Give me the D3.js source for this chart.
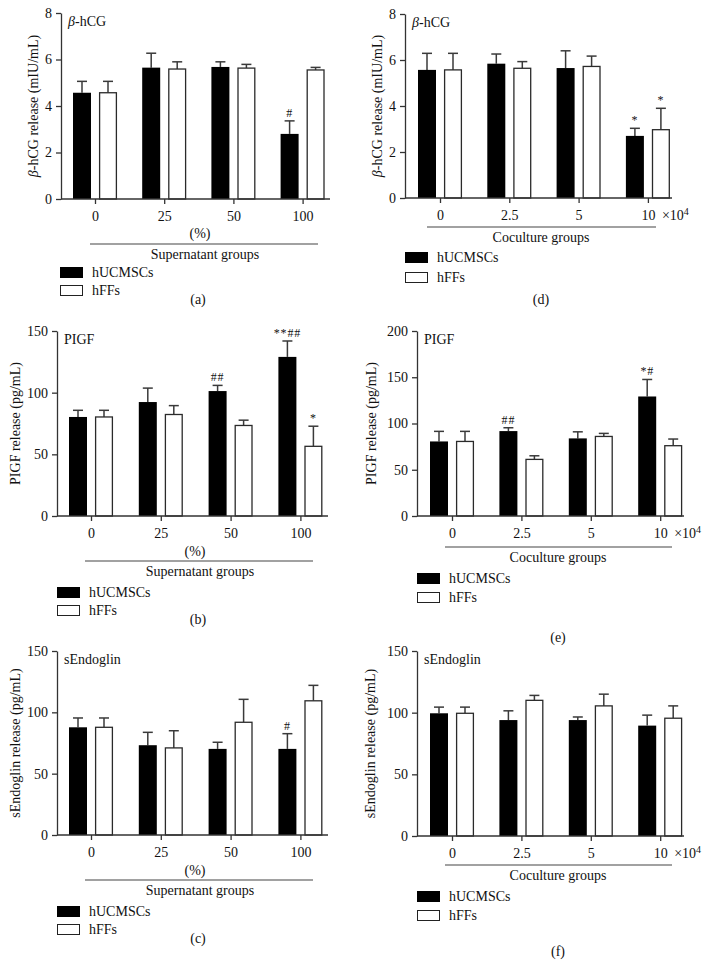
<!DOCTYPE html>
<html><head><meta charset="utf-8">
<script src="https://cdn.jsdelivr.net/npm/d3@7"></script>
<style>
body{margin:0;background:#fff}
svg{display:block;background:#fff}
text{font-family:"Liberation Serif","Times New Roman",serif;fill:#111}
</style>
</head><body>
<svg id="chart" width="713" height="960"></svg>
<script>
// ---------- data ----------
const catSup = ["0", "25", "50", "100"];
const catCo = ["0", "2.5", "5", "10"];
const seriesNames = ["hUCMSCs", "hFFs"];

// beta-hCG, supernatant groups (a)
const hcgSupH = [4.57, 5.65, 5.68, 2.80];
const hcgSupHErr = [0.49, 0.62, 0.22, 0.56];
const hcgSupF = [4.57, 5.59, 5.63, 5.55];
const hcgSupFErr = [0.49, 0.31, 0.16, 0.11];
const hcgSupHAnn = ["", "", "", "#"];
const hcgSupFAnn = ["", "", "", ""];

// beta-hCG, coculture groups (d)
const hcgCoH = [5.57, 5.84, 5.65, 2.70];
const hcgCoHErr = [0.72, 0.42, 0.75, 0.33];
const hcgCoF = [5.57, 5.64, 5.72, 2.97];
const hcgCoFErr = [0.72, 0.29, 0.45, 0.93];
const hcgCoHAnn = ["", "", "", "*"];
const hcgCoFAnn = ["", "", "", "*"];

// PIGF, supernatant groups (b)
const pigfSupH = [80.3, 92.4, 101.3, 129.0];
const pigfSupHErr = [5.4, 11.3, 4.6, 12.9];
const pigfSupF = [80.3, 82.3, 73.4, 56.5];
const pigfSupFErr = [5.4, 7.2, 4.3, 16.3];
const pigfSupHAnn = ["", "", "##", "**##"];
const pigfSupFAnn = ["", "", "", "*"];

// PIGF, coculture groups (e)
const pigfCoH = [80.6, 91.8, 83.9, 129.2];
const pigfCoHErr = [10.9, 3.6, 7.1, 18.4];
const pigfCoF = [80.6, 61.2, 86.0, 76.0];
const pigfCoFErr = [10.9, 3.9, 3.3, 7.2];
const pigfCoHAnn = ["", "##", "", "*#"];
const pigfCoFAnn = ["", "", "", ""];

// sEndoglin, supernatant groups (c)
const sengSupH = [87.8, 73.2, 70.2, 70.2];
const sengSupHErr = [7.6, 10.5, 5.4, 12.4];
const sengSupF = [87.8, 71.0, 91.9, 109.4];
const sengSupFErr = [7.6, 14.0, 18.7, 12.6];
const sengSupHAnn = ["", "", "", "#"];
const sengSupFAnn = ["", "", "", ""];

// sEndoglin, coculture groups (f)
const sengCoH = [99.5, 94.0, 94.0, 89.5];
const sengCoHErr = [5.0, 7.5, 2.5, 8.5];
const sengCoF = [99.5, 110.0, 105.5, 95.5];
const sengCoFErr = [5.0, 4.0, 9.5, 10.0];
const sengCoHAnn = ["", "", "", ""];
const sengCoFAnn = ["", "", "", ""];

const hcgTicks = [0, 2, 4, 6, 8];
const pigfSupTicks = [0, 50, 100, 150];
const pigfCoTicks = [0, 50, 100, 150, 200];
const sengTicks = [0, 50, 100, 150];

// ---------- panels ----------
const panels = [
  { cap: "(a)", title: "hCG", beta: true, ylab: "hCG release (mIU/mL)", cats: catSup, group: "Supernatant groups", pct: true,
    h: hcgSupH, hErr: hcgSupHErr, f: hcgSupF, fErr: hcgSupFErr, hAnn: hcgSupHAnn, fAnn: hcgSupFAnn, ticks: hcgTicks,
    L: { x0: 61, xEnd: 330, yTop: 13, yBot: 199, t0: 95, step: 69.2, ylabX: 33, pctY: 233, lineY: 244, lineX: [90, 318], grpY: 254, grpX: 205, legX: 60, legY: [267, 285], capX: 198, capY: 299 } },
  { cap: "(d)", title: "hCG", beta: true, ylab: "hCG release (mIU/mL)", cats: catCo, group: "Coculture groups", pct: false,
    h: hcgCoH, hErr: hcgCoHErr, f: hcgCoF, fErr: hcgCoFErr, hAnn: hcgCoHAnn, fAnn: hcgCoFAnn, ticks: hcgTicks,
    L: { x0: 405, xEnd: 672, yTop: 14, yBot: 198, t0: 440, step: 69.3, ylabX: 377, lineY: 227, lineX: [427, 656], grpY: 237, grpX: 541, legX: 405, legY: [252, 272], capX: 541, capY: 299 } },
  { cap: "(b)", title: "PIGF", beta: false, ylab: "PIGF release (pg/mL)", cats: catSup, group: "Supernatant groups", pct: true,
    h: pigfSupH, hErr: pigfSupHErr, f: pigfSupF, fErr: pigfSupFErr, hAnn: pigfSupHAnn, fAnn: pigfSupFAnn, ticks: pigfSupTicks,
    L: { x0: 57, xEnd: 328, yTop: 331, yBot: 516, t0: 91, step: 69.8, ylabX: 15, pctY: 551, lineY: 561, lineX: [85, 313], grpY: 571, grpX: 200, legX: 57, legY: [587, 605], capX: 198, capY: 619 } },
  { cap: "(e)", title: "PIGF", beta: false, ylab: "PIGF release (pg/mL)", cats: catCo, group: "Coculture groups", pct: false,
    h: pigfCoH, hErr: pigfCoHErr, f: pigfCoF, fErr: pigfCoFErr, hAnn: pigfCoHAnn, fAnn: pigfCoFAnn, ticks: pigfCoTicks,
    L: { x0: 417, xEnd: 684, yTop: 331, yBot: 516, t0: 452, step: 69.4, ylabX: 371, lineY: 547, lineX: [445, 672], grpY: 557, grpX: 558, legX: 417, legY: [573, 592], capX: 558, capY: 637 } },
  { cap: "(c)", title: "sEndoglin", beta: false, ylab: "sEndoglin release (pg/mL)", cats: catSup, group: "Supernatant groups", pct: true,
    h: sengSupH, hErr: sengSupHErr, f: sengSupF, fErr: sengSupFErr, hAnn: sengSupHAnn, fAnn: sengSupFAnn, ticks: sengTicks,
    L: { x0: 57, xEnd: 328, yTop: 651, yBot: 835, t0: 91, step: 69.8, ylabX: 15, pctY: 870, lineY: 880, lineX: [85, 313], grpY: 890, grpX: 200, legX: 57, legY: [906, 924], capX: 198, capY: 938 } },
  { cap: "(f)", title: "sEndoglin", beta: false, ylab: "sEndoglin release (pg/mL)", cats: catCo, group: "Coculture groups", pct: false,
    h: sengCoH, hErr: sengCoHErr, f: sengCoF, fErr: sengCoFErr, hAnn: sengCoHAnn, fAnn: sengCoFAnn, ticks: sengTicks,
    L: { x0: 417, xEnd: 684, yTop: 651, yBot: 836, t0: 452, step: 69.4, ylabX: 370, lineY: 865, lineX: [445, 672], grpY: 875, grpX: 558, legX: 417, legY: [891, 910], capX: 558, capY: 951 } }
];

const svg = d3.select("#chart");
const AX = "#333";
const FS = 14;

function drawPanel(p) {
  const L = p.L;
  const g = svg.append("g");
  const yMax = p.ticks[p.ticks.length - 1];
  const y = d3.scaleLinear().domain([0, yMax]).range([L.yBot, L.yTop]);
  const x = d3.scalePoint().domain(p.cats).range([L.t0, L.t0 + L.step * (p.cats.length - 1)]);
  const xs = d3.scaleBand().domain([0, 1]).range([-22, 22]).paddingInner(8 / 26);

  const rows = p.cats.flatMap((c, i) => [
    { c, s: 0, v: p.h[i], e: p.hErr[i], a: p.hAnn[i] },
    { c, s: 1, v: p.f[i], e: p.fErr[i], a: p.fAnn[i] }
  ]);

  // error bars (upper only)
  const eb = g.append("g").attr("stroke", "#3a3a3a").attr("stroke-width", 1.5).attr("fill", "none");
  rows.forEach(r => {
    const cx = x(r.c) + xs(r.s) + xs.bandwidth() / 2;
    eb.append("line").attr("x1", cx).attr("x2", cx).attr("y1", y(r.v)).attr("y2", y(r.v + r.e));
    eb.append("line").attr("x1", cx - 5).attr("x2", cx + 5).attr("y1", y(r.v + r.e)).attr("y2", y(r.v + r.e));
  });

  // bars
  g.append("g").selectAll("rect").data(rows).join("rect")
    .attr("x", r => x(r.c) + xs(r.s) + (r.s ? 0.6 : 0))
    .attr("width", r => xs.bandwidth() - (r.s ? 1.2 : 0))
    .attr("y", r => y(r.v))
    .attr("height", r => y(0) - y(r.v))
    .attr("fill", r => r.s ? "#fff" : "#000")
    .attr("stroke", r => r.s ? "#2a2a2a" : "none")
    .attr("stroke-width", 1.3);

  // annotations
  g.append("g").selectAll("text").data(rows.filter(r => r.a)).join("text")
    .attr("x", r => x(r.c) + xs(r.s) + xs.bandwidth() / 2)
    .attr("y", r => y(r.v + r.e) - 4)
    .attr("text-anchor", "middle")
    .attr("font-size", 12)
    .attr("letter-spacing", 0.8)
    .attr("fill", "#333")
    .text(r => r.a);

  // y axis
  const ya = g.append("g").attr("transform", `translate(${L.x0},0)`)
    .call(d3.axisLeft(y).tickValues(p.ticks).tickSize(5).tickSizeOuter(0).tickPadding(4));
  ya.attr("font-family", null).attr("font-size", null);
  ya.selectAll("text").attr("font-size", FS);
  ya.selectAll("line,path").attr("stroke", AX).attr("stroke-width", 1.3);

  // x axis
  const xa = g.append("g").attr("transform", `translate(0,${L.yBot})`)
    .call(d3.axisBottom(x).tickSize(5).tickPadding(7));
  xa.attr("font-family", null).attr("font-size", null);
  xa.select(".domain").remove();
  xa.selectAll("text").attr("font-size", FS);
  xa.selectAll("line").attr("stroke", AX).attr("stroke-width", 1.3);
  g.append("line").attr("x1", L.x0).attr("x2", L.xEnd).attr("y1", L.yBot).attr("y2", L.yBot)
    .attr("stroke", AX).attr("stroke-width", 1.3);

  if (!p.pct) {
    const last = p.cats[p.cats.length - 1];
    const t = g.append("text").attr("x", x(last) + 14).attr("y", L.yBot + 22).attr("font-size", FS).text("\u00d710");
    t.append("tspan").attr("font-size", 10).attr("dy", -5).text("4");
  } else {
    g.append("text").attr("x", (L.lineX[0] + L.lineX[1]) / 2 - 4).attr("y", L.pctY).attr("dominant-baseline", "central")
      .attr("text-anchor", "middle").attr("font-size", FS).text("(%)");
  }

  // group line & label
  g.append("line").attr("x1", L.lineX[0]).attr("x2", L.lineX[1]).attr("y1", L.lineY).attr("y2", L.lineY)
    .attr("stroke", "#444").attr("stroke-width", 1.1);
  g.append("text").attr("x", L.grpX).attr("y", L.grpY).attr("dominant-baseline", "central")
    .attr("text-anchor", "middle").attr("font-size", FS).text(p.group);

  // title in plot
  const tt = g.append("text").attr("x", L.x0 + 7).attr("y", L.yTop + 8).attr("dominant-baseline", "central").attr("font-size", FS);
  if (p.beta) { tt.append("tspan").attr("font-style", "italic").text("\u03b2"); tt.append("tspan").text("-" + p.title); }
  else tt.text(p.title);

  // y label
  const yl = g.append("text").attr("transform", `translate(${L.ylabX},${(L.yTop + L.yBot) / 2}) rotate(-90)`)
    .attr("text-anchor", "middle").attr("dominant-baseline", "central").attr("font-size", FS);
  if (p.beta) { yl.append("tspan").attr("font-style", "italic").text("\u03b2"); yl.append("tspan").text("-" + p.ylab); }
  else yl.text(p.ylab);

  // legend
  seriesNames.forEach((n, i) => {
    g.append("rect").attr("x", L.legX + 0.5).attr("y", L.legY[i] + 0.5).attr("width", 22).attr("height", 10)
      .attr("fill", i ? "#fff" : "#000").attr("stroke", i ? "#222" : "#000").attr("stroke-width", 1);
    g.append("text").attr("x", L.legX + 32).attr("y", L.legY[i] + 5.5).attr("dominant-baseline", "central")
      .attr("font-size", FS).text(n);
  });

  // caption
  g.append("text").attr("x", L.capX).attr("y", L.capY).attr("dominant-baseline", "central")
    .attr("text-anchor", "middle").attr("font-size", FS).text(p.cap);
}

panels.forEach(drawPanel);
</script>
</body></html>
